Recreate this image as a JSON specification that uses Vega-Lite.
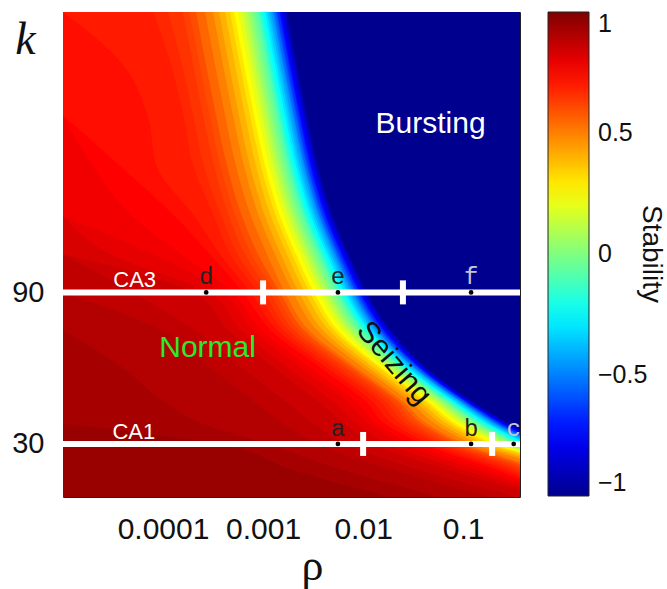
{
  "$schema": "https://vega.github.io/schema/vega-lite/v6.json",
  "width": 457,
  "height": 485,
  "autosize": {"type": "none"},
  "padding": {"left": 63, "top": 12, "right": 147, "bottom": 92},
  "background": "white",
  "config": {
    "font": "Liberation Sans",
    "view": {"stroke": "#222222", "strokeWidth": 1},
    "axis": {"domain": false, "grid": false, "tickColor": "#222222", "tickSize": -5, "tickWidth": 1, "labelColor": "#111111", "titleColor": "#111111", "labelFont": "Liberation Sans"}
  },
  "datasets": {
    "stability": [
      {"s":-1,"k":201,"r":1},{"s":-1,"k":9,"r":1},
      {"s":-0.95,"k":201,"r":0.00174},{"s":-0.95,"k":180,"r":0.00219},{"s":-0.95,"k":160,"r":0.00275},{"s":-0.95,"k":140,"r":0.00355},{"s":-0.95,"k":120,"r":0.00501},{"s":-0.95,"k":105,"r":0.00724},{"s":-0.95,"k":90,"r":0.011},{"s":-0.95,"k":75,"r":0.019},{"s":-0.95,"k":60,"r":0.0437},{"s":-0.95,"k":47,"r":0.123},{"s":-0.95,"k":38,"r":0.288},{"s":-0.95,"k":30,"r":0.692},{"s":-0.95,"k":20,"r":1},{"s":-0.95,"k":9,"r":1},
      {"s":-0.9,"k":201,"r":0.0017},{"s":-0.9,"k":180,"r":0.00214},{"s":-0.9,"k":160,"r":0.00269},{"s":-0.9,"k":140,"r":0.00347},{"s":-0.9,"k":120,"r":0.0049},{"s":-0.9,"k":105,"r":0.00708},{"s":-0.9,"k":90,"r":0.0107},{"s":-0.9,"k":75,"r":0.0186},{"s":-0.9,"k":60,"r":0.0427},{"s":-0.9,"k":47,"r":0.12},{"s":-0.9,"k":38,"r":0.282},{"s":-0.9,"k":30,"r":0.676},{"s":-0.9,"k":20,"r":1},{"s":-0.9,"k":9,"r":1},
      {"s":-0.85,"k":201,"r":0.00166},{"s":-0.85,"k":180,"r":0.00209},{"s":-0.85,"k":160,"r":0.00263},{"s":-0.85,"k":140,"r":0.00339},{"s":-0.85,"k":120,"r":0.00479},{"s":-0.85,"k":105,"r":0.00692},{"s":-0.85,"k":90,"r":0.0105},{"s":-0.85,"k":75,"r":0.0182},{"s":-0.85,"k":60,"r":0.0417},{"s":-0.85,"k":47,"r":0.117},{"s":-0.85,"k":38,"r":0.275},{"s":-0.85,"k":30,"r":0.661},{"s":-0.85,"k":20,"r":1},{"s":-0.85,"k":9,"r":1},
      {"s":-0.8,"k":201,"r":0.00158},{"s":-0.8,"k":180,"r":0.002},{"s":-0.8,"k":160,"r":0.00251},{"s":-0.8,"k":140,"r":0.00324},{"s":-0.8,"k":120,"r":0.00457},{"s":-0.8,"k":105,"r":0.00661},{"s":-0.8,"k":90,"r":0.01},{"s":-0.8,"k":75,"r":0.0174},{"s":-0.8,"k":60,"r":0.0407},{"s":-0.8,"k":47,"r":0.115},{"s":-0.8,"k":38,"r":0.263},{"s":-0.8,"k":30,"r":0.631},{"s":-0.8,"k":20,"r":1},{"s":-0.8,"k":9,"r":1},
      {"s":-0.75,"k":201,"r":0.00155},{"s":-0.75,"k":180,"r":0.00195},{"s":-0.75,"k":160,"r":0.00246},{"s":-0.75,"k":140,"r":0.00316},{"s":-0.75,"k":120,"r":0.00447},{"s":-0.75,"k":105,"r":0.00646},{"s":-0.75,"k":90,"r":0.00977},{"s":-0.75,"k":75,"r":0.017},{"s":-0.75,"k":60,"r":0.0398},{"s":-0.75,"k":47,"r":0.112},{"s":-0.75,"k":38,"r":0.257},{"s":-0.75,"k":30,"r":0.617},{"s":-0.75,"k":20,"r":1},{"s":-0.75,"k":9,"r":1},
      {"s":-0.7,"k":201,"r":0.00148},{"s":-0.7,"k":180,"r":0.00186},{"s":-0.7,"k":160,"r":0.00234},{"s":-0.7,"k":140,"r":0.00302},{"s":-0.7,"k":120,"r":0.00427},{"s":-0.7,"k":105,"r":0.00617},{"s":-0.7,"k":90,"r":0.00933},{"s":-0.7,"k":75,"r":0.0162},{"s":-0.7,"k":60,"r":0.038},{"s":-0.7,"k":47,"r":0.107},{"s":-0.7,"k":38,"r":0.246},{"s":-0.7,"k":30,"r":0.589},{"s":-0.7,"k":20,"r":1},{"s":-0.7,"k":9,"r":1},
      {"s":-0.65,"k":201,"r":0.00145},{"s":-0.65,"k":180,"r":0.00182},{"s":-0.65,"k":160,"r":0.00229},{"s":-0.65,"k":140,"r":0.00295},{"s":-0.65,"k":120,"r":0.00417},{"s":-0.65,"k":105,"r":0.00603},{"s":-0.65,"k":90,"r":0.00912},{"s":-0.65,"k":75,"r":0.0158},{"s":-0.65,"k":60,"r":0.0372},{"s":-0.65,"k":47,"r":0.105},{"s":-0.65,"k":38,"r":0.24},{"s":-0.65,"k":30,"r":0.575},{"s":-0.65,"k":20,"r":1},{"s":-0.65,"k":9,"r":1},
      {"s":-0.6,"k":201,"r":0.00138},{"s":-0.6,"k":180,"r":0.00174},{"s":-0.6,"k":160,"r":0.00219},{"s":-0.6,"k":140,"r":0.00282},{"s":-0.6,"k":120,"r":0.00398},{"s":-0.6,"k":105,"r":0.00575},{"s":-0.6,"k":90,"r":0.00871},{"s":-0.6,"k":75,"r":0.0151},{"s":-0.6,"k":60,"r":0.0363},{"s":-0.6,"k":47,"r":0.102},{"s":-0.6,"k":38,"r":0.229},{"s":-0.6,"k":30,"r":0.55},{"s":-0.6,"k":20,"r":1},{"s":-0.6,"k":9,"r":1},
      {"s":-0.55,"k":201,"r":0.00135},{"s":-0.55,"k":180,"r":0.0017},{"s":-0.55,"k":160,"r":0.00214},{"s":-0.55,"k":140,"r":0.00275},{"s":-0.55,"k":120,"r":0.00389},{"s":-0.55,"k":105,"r":0.00562},{"s":-0.55,"k":90,"r":0.00851},{"s":-0.55,"k":75,"r":0.0148},{"s":-0.55,"k":60,"r":0.0355},{"s":-0.55,"k":47,"r":0.1},{"s":-0.55,"k":38,"r":0.224},{"s":-0.55,"k":30,"r":0.537},{"s":-0.55,"k":20,"r":1},{"s":-0.55,"k":9,"r":1},
      {"s":-0.5,"k":201,"r":0.00129},{"s":-0.5,"k":180,"r":0.00162},{"s":-0.5,"k":160,"r":0.00204},{"s":-0.5,"k":140,"r":0.00263},{"s":-0.5,"k":120,"r":0.00372},{"s":-0.5,"k":105,"r":0.00537},{"s":-0.5,"k":90,"r":0.00813},{"s":-0.5,"k":75,"r":0.0141},{"s":-0.5,"k":60,"r":0.0339},{"s":-0.5,"k":47,"r":0.0955},{"s":-0.5,"k":38,"r":0.214},{"s":-0.5,"k":30,"r":0.513},{"s":-0.5,"k":20,"r":1},{"s":-0.5,"k":9,"r":1},
      {"s":-0.45,"k":201,"r":0.00126},{"s":-0.45,"k":180,"r":0.00158},{"s":-0.45,"k":160,"r":0.002},{"s":-0.45,"k":140,"r":0.00257},{"s":-0.45,"k":120,"r":0.00363},{"s":-0.45,"k":105,"r":0.00525},{"s":-0.45,"k":90,"r":0.00794},{"s":-0.45,"k":75,"r":0.0138},{"s":-0.45,"k":60,"r":0.0331},{"s":-0.45,"k":47,"r":0.0933},{"s":-0.45,"k":38,"r":0.209},{"s":-0.45,"k":30,"r":0.501},{"s":-0.45,"k":20,"r":1},{"s":-0.45,"k":9,"r":1},
      {"s":-0.4,"k":201,"r":0.0012},{"s":-0.4,"k":180,"r":0.00151},{"s":-0.4,"k":160,"r":0.0019},{"s":-0.4,"k":140,"r":0.00246},{"s":-0.4,"k":120,"r":0.00347},{"s":-0.4,"k":105,"r":0.00501},{"s":-0.4,"k":90,"r":0.00759},{"s":-0.4,"k":75,"r":0.0132},{"s":-0.4,"k":60,"r":0.0324},{"s":-0.4,"k":47,"r":0.0912},{"s":-0.4,"k":38,"r":0.2},{"s":-0.4,"k":30,"r":0.479},{"s":-0.4,"k":20,"r":1},{"s":-0.4,"k":9,"r":1},
      {"s":-0.35,"k":201,"r":0.00115},{"s":-0.35,"k":180,"r":0.00145},{"s":-0.35,"k":160,"r":0.00182},{"s":-0.35,"k":140,"r":0.00234},{"s":-0.35,"k":120,"r":0.00331},{"s":-0.35,"k":105,"r":0.00479},{"s":-0.35,"k":90,"r":0.00724},{"s":-0.35,"k":75,"r":0.0126},{"s":-0.35,"k":60,"r":0.0309},{"s":-0.35,"k":47,"r":0.0871},{"s":-0.35,"k":38,"r":0.19},{"s":-0.35,"k":30,"r":0.457},{"s":-0.35,"k":20,"r":1},{"s":-0.35,"k":9,"r":1},
      {"s":-0.3,"k":201,"r":0.0011},{"s":-0.3,"k":180,"r":0.00138},{"s":-0.3,"k":160,"r":0.00174},{"s":-0.3,"k":140,"r":0.00224},{"s":-0.3,"k":120,"r":0.00316},{"s":-0.3,"k":105,"r":0.00457},{"s":-0.3,"k":90,"r":0.00692},{"s":-0.3,"k":75,"r":0.012},{"s":-0.3,"k":60,"r":0.0295},{"s":-0.3,"k":47,"r":0.0832},{"s":-0.3,"k":38,"r":0.182},{"s":-0.3,"k":30,"r":0.437},{"s":-0.3,"k":20,"r":1},{"s":-0.3,"k":9,"r":1},
      {"s":-0.25,"k":201,"r":0.00105},{"s":-0.25,"k":180,"r":0.00132},{"s":-0.25,"k":160,"r":0.00166},{"s":-0.25,"k":140,"r":0.00214},{"s":-0.25,"k":120,"r":0.00302},{"s":-0.25,"k":105,"r":0.00437},{"s":-0.25,"k":90,"r":0.00661},{"s":-0.25,"k":75,"r":0.0115},{"s":-0.25,"k":60,"r":0.0282},{"s":-0.25,"k":47,"r":0.0794},{"s":-0.25,"k":38,"r":0.174},{"s":-0.25,"k":30,"r":0.417},{"s":-0.25,"k":20,"r":1},{"s":-0.25,"k":9,"r":1},
      {"s":-0.2,"k":201,"r":0.001},{"s":-0.2,"k":180,"r":0.00126},{"s":-0.2,"k":160,"r":0.00158},{"s":-0.2,"k":140,"r":0.00204},{"s":-0.2,"k":120,"r":0.00288},{"s":-0.2,"k":105,"r":0.00417},{"s":-0.2,"k":90,"r":0.00631},{"s":-0.2,"k":75,"r":0.011},{"s":-0.2,"k":60,"r":0.0275},{"s":-0.2,"k":47,"r":0.0776},{"s":-0.2,"k":38,"r":0.166},{"s":-0.2,"k":30,"r":0.398},{"s":-0.2,"k":20,"r":1},{"s":-0.2,"k":9,"r":1},
      {"s":-0.15,"k":201,"r":0.000955},{"s":-0.15,"k":180,"r":0.0012},{"s":-0.15,"k":160,"r":0.00151},{"s":-0.15,"k":140,"r":0.00195},{"s":-0.15,"k":120,"r":0.00275},{"s":-0.15,"k":105,"r":0.00398},{"s":-0.15,"k":90,"r":0.00603},{"s":-0.15,"k":75,"r":0.0105},{"s":-0.15,"k":60,"r":0.0263},{"s":-0.15,"k":47,"r":0.0741},{"s":-0.15,"k":38,"r":0.158},{"s":-0.15,"k":30,"r":0.38},{"s":-0.15,"k":20,"r":1},{"s":-0.15,"k":9,"r":1},
      {"s":-0.1,"k":201,"r":0.000912},{"s":-0.1,"k":180,"r":0.00115},{"s":-0.1,"k":160,"r":0.00145},{"s":-0.1,"k":140,"r":0.00186},{"s":-0.1,"k":120,"r":0.00263},{"s":-0.1,"k":105,"r":0.0038},{"s":-0.1,"k":90,"r":0.00575},{"s":-0.1,"k":75,"r":0.01},{"s":-0.1,"k":60,"r":0.0251},{"s":-0.1,"k":47,"r":0.0708},{"s":-0.1,"k":38,"r":0.151},{"s":-0.1,"k":30,"r":0.363},{"s":-0.1,"k":20,"r":1},{"s":-0.1,"k":9,"r":1},
      {"s":-0.05,"k":201,"r":0.000871},{"s":-0.05,"k":180,"r":0.0011},{"s":-0.05,"k":160,"r":0.00138},{"s":-0.05,"k":140,"r":0.00178},{"s":-0.05,"k":120,"r":0.00251},{"s":-0.05,"k":105,"r":0.00363},{"s":-0.05,"k":90,"r":0.0055},{"s":-0.05,"k":75,"r":0.00955},{"s":-0.05,"k":60,"r":0.0246},{"s":-0.05,"k":47,"r":0.0692},{"s":-0.05,"k":38,"r":0.145},{"s":-0.05,"k":30,"r":0.347},{"s":-0.05,"k":20,"r":1},{"s":-0.05,"k":9,"r":1},
      {"s":0,"k":201,"r":0.000813},{"s":0,"k":180,"r":0.00102},{"s":0,"k":160,"r":0.00129},{"s":0,"k":140,"r":0.00166},{"s":0,"k":120,"r":0.00234},{"s":0,"k":105,"r":0.00339},{"s":0,"k":90,"r":0.00513},{"s":0,"k":75,"r":0.00891},{"s":0,"k":60,"r":0.0229},{"s":0,"k":47,"r":0.0646},{"s":0,"k":38,"r":0.135},{"s":0,"k":30,"r":0.324},{"s":0,"k":20,"r":1},{"s":0,"k":9,"r":1},
      {"s":0.05,"k":201,"r":0.000759},{"s":0.05,"k":180,"r":0.000955},{"s":0.05,"k":160,"r":0.0012},{"s":0.05,"k":140,"r":0.00155},{"s":0.05,"k":120,"r":0.00219},{"s":0.05,"k":105,"r":0.00316},{"s":0.05,"k":90,"r":0.00479},{"s":0.05,"k":75,"r":0.00832},{"s":0.05,"k":60,"r":0.0219},{"s":0.05,"k":47,"r":0.0617},{"s":0.05,"k":38,"r":0.126},{"s":0.05,"k":30,"r":0.302},{"s":0.05,"k":20,"r":1},{"s":0.05,"k":9,"r":1},
      {"s":0.1,"k":201,"r":0.000708},{"s":0.1,"k":180,"r":0.000891},{"s":0.1,"k":160,"r":0.00112},{"s":0.1,"k":140,"r":0.00145},{"s":0.1,"k":120,"r":0.00204},{"s":0.1,"k":105,"r":0.00295},{"s":0.1,"k":90,"r":0.00447},{"s":0.1,"k":75,"r":0.00776},{"s":0.1,"k":60,"r":0.0204},{"s":0.1,"k":47,"r":0.0575},{"s":0.1,"k":38,"r":0.117},{"s":0.1,"k":30,"r":0.282},{"s":0.1,"k":20,"r":1},{"s":0.1,"k":9,"r":1},
      {"s":0.15,"k":201,"r":0.000661},{"s":0.15,"k":180,"r":0.000832},{"s":0.15,"k":160,"r":0.00105},{"s":0.15,"k":140,"r":0.00135},{"s":0.15,"k":120,"r":0.0019},{"s":0.15,"k":105,"r":0.00275},{"s":0.15,"k":90,"r":0.00417},{"s":0.15,"k":75,"r":0.00724},{"s":0.15,"k":60,"r":0.019},{"s":0.15,"k":47,"r":0.0537},{"s":0.15,"k":38,"r":0.11},{"s":0.15,"k":30,"r":0.263},{"s":0.15,"k":20,"r":1},{"s":0.15,"k":9,"r":1},
      {"s":0.2,"k":201,"r":0.000617},{"s":0.2,"k":180,"r":0.000776},{"s":0.2,"k":160,"r":0.000977},{"s":0.2,"k":140,"r":0.00126},{"s":0.2,"k":120,"r":0.00178},{"s":0.2,"k":105,"r":0.00257},{"s":0.2,"k":90,"r":0.00389},{"s":0.2,"k":75,"r":0.00676},{"s":0.2,"k":60,"r":0.0182},{"s":0.2,"k":47,"r":0.0513},{"s":0.2,"k":38,"r":0.102},{"s":0.2,"k":30,"r":0.246},{"s":0.2,"k":20,"r":1},{"s":0.2,"k":9,"r":1},
      {"s":0.25,"k":201,"r":0.000562},{"s":0.25,"k":180,"r":0.000708},{"s":0.25,"k":160,"r":0.000891},{"s":0.25,"k":140,"r":0.00115},{"s":0.25,"k":120,"r":0.00162},{"s":0.25,"k":105,"r":0.00234},{"s":0.25,"k":90,"r":0.00355},{"s":0.25,"k":75,"r":0.00617},{"s":0.25,"k":60,"r":0.0166},{"s":0.25,"k":47,"r":0.0468},{"s":0.25,"k":38,"r":0.0933},{"s":0.25,"k":30,"r":0.224},{"s":0.25,"k":20,"r":1},{"s":0.25,"k":9,"r":1},
      {"s":0.3,"k":201,"r":0.000513},{"s":0.3,"k":180,"r":0.000646},{"s":0.3,"k":160,"r":0.000813},{"s":0.3,"k":140,"r":0.00105},{"s":0.3,"k":120,"r":0.00148},{"s":0.3,"k":105,"r":0.00214},{"s":0.3,"k":90,"r":0.00324},{"s":0.3,"k":75,"r":0.00562},{"s":0.3,"k":60,"r":0.0155},{"s":0.3,"k":47,"r":0.0437},{"s":0.3,"k":38,"r":0.0851},{"s":0.3,"k":30,"r":0.204},{"s":0.3,"k":20,"r":1},{"s":0.3,"k":9,"r":1},
      {"s":0.35,"k":201,"r":0.000468},{"s":0.35,"k":180,"r":0.000589},{"s":0.35,"k":160,"r":0.000741},{"s":0.35,"k":140,"r":0.000955},{"s":0.35,"k":120,"r":0.00135},{"s":0.35,"k":105,"r":0.00195},{"s":0.35,"k":90,"r":0.00295},{"s":0.35,"k":75,"r":0.00513},{"s":0.35,"k":60,"r":0.0145},{"s":0.35,"k":47,"r":0.0407},{"s":0.35,"k":38,"r":0.0776},{"s":0.35,"k":30,"r":0.186},{"s":0.35,"k":20,"r":0.977},{"s":0.35,"k":9,"r":1},
      {"s":0.4,"k":201,"r":0.000417},{"s":0.4,"k":180,"r":0.000525},{"s":0.4,"k":160,"r":0.000661},{"s":0.4,"k":140,"r":0.000851},{"s":0.4,"k":120,"r":0.0012},{"s":0.4,"k":105,"r":0.00174},{"s":0.4,"k":90,"r":0.00263},{"s":0.4,"k":75,"r":0.00457},{"s":0.4,"k":60,"r":0.0129},{"s":0.4,"k":47,"r":0.0363},{"s":0.4,"k":38,"r":0.0692},{"s":0.4,"k":30,"r":0.166},{"s":0.4,"k":20,"r":0.871},{"s":0.4,"k":9,"r":1},
      {"s":0.45,"k":201,"r":0.000363},{"s":0.45,"k":180,"r":0.000457},{"s":0.45,"k":160,"r":0.000575},{"s":0.45,"k":140,"r":0.000741},{"s":0.45,"k":120,"r":0.00105},{"s":0.45,"k":105,"r":0.00151},{"s":0.45,"k":90,"r":0.00229},{"s":0.45,"k":75,"r":0.00398},{"s":0.45,"k":60,"r":0.0115},{"s":0.45,"k":47,"r":0.0324},{"s":0.45,"k":38,"r":0.0603},{"s":0.45,"k":30,"r":0.145},{"s":0.45,"k":20,"r":0.759},{"s":0.45,"k":9,"r":1},
      {"s":0.5,"k":201,"r":0.000316},{"s":0.5,"k":180,"r":0.000398},{"s":0.5,"k":160,"r":0.000501},{"s":0.5,"k":140,"r":0.000646},{"s":0.5,"k":120,"r":0.000912},{"s":0.5,"k":105,"r":0.00132},{"s":0.5,"k":90,"r":0.002},{"s":0.5,"k":75,"r":0.00347},{"s":0.5,"k":60,"r":0.0102},{"s":0.5,"k":47,"r":0.0288},{"s":0.5,"k":38,"r":0.0525},{"s":0.5,"k":30,"r":0.126},{"s":0.5,"k":20,"r":0.661},{"s":0.5,"k":9,"r":1},
      {"s":0.55,"k":201,"r":0.000263},{"s":0.55,"k":180,"r":0.000331},{"s":0.55,"k":160,"r":0.000417},{"s":0.55,"k":140,"r":0.000537},{"s":0.55,"k":120,"r":0.000759},{"s":0.55,"k":105,"r":0.0011},{"s":0.55,"k":90,"r":0.00166},{"s":0.55,"k":75,"r":0.00288},{"s":0.55,"k":60,"r":0.00871},{"s":0.55,"k":47,"r":0.0246},{"s":0.55,"k":38,"r":0.0437},{"s":0.55,"k":30,"r":0.105},{"s":0.55,"k":20,"r":0.55},{"s":0.55,"k":9,"r":1},
      {"s":0.6,"k":201,"r":0.000214},{"s":0.6,"k":180,"r":0.000269},{"s":0.6,"k":160,"r":0.000339},{"s":0.6,"k":140,"r":0.000437},{"s":0.6,"k":120,"r":0.000617},{"s":0.6,"k":105,"r":0.000891},{"s":0.6,"k":90,"r":0.00148},{"s":0.6,"k":75,"r":0.00257},{"s":0.6,"k":60,"r":0.00794},{"s":0.6,"k":47,"r":0.0224},{"s":0.6,"k":38,"r":0.0389},{"s":0.6,"k":30,"r":0.0933},{"s":0.6,"k":20,"r":0.49},{"s":0.6,"k":9,"r":1},
      {"s":0.625,"k":201,"r":0.000184},{"s":0.625,"k":180,"r":0.000232},{"s":0.625,"k":160,"r":0.000292},{"s":0.625,"k":140,"r":0.000376},{"s":0.625,"k":120,"r":0.000531},{"s":0.625,"k":105,"r":0.000767},{"s":0.625,"k":90,"r":0.00132},{"s":0.625,"k":75,"r":0.00229},{"s":0.625,"k":60,"r":0.00724},{"s":0.625,"k":47,"r":0.0204},{"s":0.625,"k":38,"r":0.0347},{"s":0.625,"k":30,"r":0.0832},{"s":0.625,"k":20,"r":0.437},{"s":0.625,"k":9,"r":1},
      {"s":0.65,"k":201,"r":0.000158},{"s":0.65,"k":180,"r":0.0002},{"s":0.65,"k":160,"r":0.000251},{"s":0.65,"k":140,"r":0.000324},{"s":0.65,"k":120,"r":0.000457},{"s":0.65,"k":105,"r":0.000661},{"s":0.65,"k":90,"r":0.00117},{"s":0.65,"k":75,"r":0.00204},{"s":0.65,"k":60,"r":0.00661},{"s":0.65,"k":47,"r":0.0186},{"s":0.65,"k":38,"r":0.0309},{"s":0.65,"k":30,"r":0.0741},{"s":0.65,"k":20,"r":0.389},{"s":0.65,"k":9,"r":1},
      {"s":0.675,"k":201,"r":0.000112},{"s":0.675,"k":180,"r":0.000155},{"s":0.675,"k":160,"r":0.0002},{"s":0.675,"k":140,"r":0.000255},{"s":0.675,"k":120,"r":0.000385},{"s":0.675,"k":105,"r":0.000556},{"s":0.675,"k":90,"r":0.00102},{"s":0.675,"k":75,"r":0.00181},{"s":0.675,"k":60,"r":0.0058},{"s":0.675,"k":47,"r":0.0164},{"s":0.675,"k":38,"r":0.0269},{"s":0.675,"k":30,"r":0.0645},{"s":0.675,"k":20,"r":0.339},{"s":0.675,"k":9,"r":1},
      {"s":0.7,"k":201,"r":0.00008},{"s":0.7,"k":180,"r":0.00012},{"s":0.7,"k":160,"r":0.00016},{"s":0.7,"k":140,"r":0.0002},{"s":0.7,"k":120,"r":0.000324},{"s":0.7,"k":105,"r":0.000468},{"s":0.7,"k":90,"r":0.000891},{"s":0.7,"k":75,"r":0.0016},{"s":0.7,"k":60,"r":0.0051},{"s":0.7,"k":47,"r":0.0145},{"s":0.7,"k":38,"r":0.0234},{"s":0.7,"k":30,"r":0.0562},{"s":0.7,"k":20,"r":0.295},{"s":0.7,"k":9,"r":1},
      {"s":0.725,"k":201,"r":0.00001},{"s":0.725,"k":180,"r":0.00004},{"s":0.725,"k":160,"r":0.00007},{"s":0.725,"k":140,"r":0.000086},{"s":0.725,"k":120,"r":0.000207},{"s":0.725,"k":105,"r":0.000372},{"s":0.725,"k":90,"r":0.00075},{"s":0.725,"k":75,"r":0.00139},{"s":0.725,"k":60,"r":0.0044},{"s":0.725,"k":47,"r":0.0123},{"s":0.725,"k":38,"r":0.0197},{"s":0.725,"k":30,"r":0.0473},{"s":0.725,"k":20,"r":0.248},{"s":0.725,"k":9,"r":1},
      {"s":0.75,"k":160,"r":0.00001},{"s":0.75,"k":140,"r":0.0000372},{"s":0.75,"k":120,"r":0.000132},{"s":0.75,"k":105,"r":0.000295},{"s":0.75,"k":90,"r":0.000631},{"s":0.75,"k":75,"r":0.0012},{"s":0.75,"k":60,"r":0.0038},{"s":0.75,"k":47,"r":0.0105},{"s":0.75,"k":38,"r":0.0166},{"s":0.75,"k":30,"r":0.0398},{"s":0.75,"k":20,"r":0.209},{"s":0.75,"k":9,"r":1},
      {"s":0.775,"k":160,"r":0.00001},{"s":0.775,"k":140,"r":0.00002},{"s":0.775,"k":120,"r":0.00005},{"s":0.775,"k":105,"r":0.000154},{"s":0.775,"k":90,"r":0.0005},{"s":0.775,"k":75,"r":0.00098},{"s":0.775,"k":60,"r":0.00302},{"s":0.775,"k":47,"r":0.00845},{"s":0.775,"k":38,"r":0.0138},{"s":0.775,"k":30,"r":0.0316},{"s":0.775,"k":20,"r":0.166},{"s":0.775,"k":9,"r":1},
      {"s":0.8,"k":120,"r":0.00001},{"s":0.8,"k":105,"r":0.00008},{"s":0.8,"k":90,"r":0.000398},{"s":0.8,"k":75,"r":0.0008},{"s":0.8,"k":60,"r":0.0024},{"s":0.8,"k":47,"r":0.0068},{"s":0.8,"k":38,"r":0.0115},{"s":0.8,"k":30,"r":0.0251},{"s":0.8,"k":20,"r":0.132},{"s":0.8,"k":9,"r":1},
      {"s":0.825,"k":120,"r":0.00001},{"s":0.825,"k":105,"r":0.00003},{"s":0.825,"k":90,"r":0.000282},{"s":0.825,"k":75,"r":0.0006},{"s":0.825,"k":60,"r":0.00177},{"s":0.825,"k":47,"r":0.00488},{"s":0.825,"k":38,"r":0.00865},{"s":0.825,"k":30,"r":0.0178},{"s":0.825,"k":20,"r":0.0934},{"s":0.825,"k":9,"r":0.813},
      {"s":0.85,"k":105,"r":0.00001},{"s":0.85,"k":90,"r":0.0002},{"s":0.85,"k":75,"r":0.00045},{"s":0.85,"k":60,"r":0.0013},{"s":0.85,"k":47,"r":0.0035},{"s":0.85,"k":38,"r":0.0065},{"s":0.85,"k":30,"r":0.0126},{"s":0.85,"k":20,"r":0.0661},{"s":0.85,"k":9,"r":0.661},
      {"s":0.875,"k":105,"r":0.00001},{"s":0.875,"k":90,"r":0.00005},{"s":0.875,"k":75,"r":0.00021},{"s":0.875,"k":60,"r":0.000624},{"s":0.875,"k":47,"r":0.00167},{"s":0.875,"k":38,"r":0.00322},{"s":0.875,"k":30,"r":0.00664},{"s":0.875,"k":20,"r":0.0351},{"s":0.875,"k":9,"r":0.351},
      {"s":0.9,"k":90,"r":0.00001},{"s":0.9,"k":75,"r":0.0000977},{"s":0.9,"k":60,"r":0.0003},{"s":0.9,"k":47,"r":0.0008},{"s":0.9,"k":38,"r":0.0016},{"s":0.9,"k":30,"r":0.0035},{"s":0.9,"k":20,"r":0.0186},{"s":0.9,"k":9,"r":0.186},
      {"s":0.925,"k":75,"r":0.00001},{"s":0.925,"k":60,"r":0.00004},{"s":0.925,"k":47,"r":0.0001},{"s":0.925,"k":38,"r":0.00025},{"s":0.925,"k":30,"r":0.00111},{"s":0.925,"k":20,"r":0.00588},{"s":0.925,"k":9,"r":0.0588},
      {"s":0.95,"k":38,"r":0.00001},{"s":0.95,"k":30,"r":0.000355},{"s":0.95,"k":20,"r":0.00186},{"s":0.95,"k":9,"r":0.0186}
    ],
    "lines": [
      {"name": "CA3", "k": 90, "r0": 0.00001, "r1": 0.37, "lx": 0.000052},
      {"name": "CA1", "k": 30, "r0": 0.00001, "r1": 0.37, "lx": 0.000051}
    ],
    "bounds": [
      {"k": 90, "r": 0.001}, {"k": 90, "r": 0.025},
      {"k": 30, "r": 0.01}, {"k": 30, "r": 0.195}
    ],
    "points": [
      {"p": "d", "k": 90, "r": 0.00027}, {"p": "e", "k": 90, "r": 0.0056}, {"p": "f", "k": 90, "r": 0.12},
      {"p": "a", "k": 30, "r": 0.0056}, {"p": "b", "k": 30, "r": 0.12}, {"p": "c", "k": 30, "r": 0.32}
    ],
    "regions": [
      {"label": "Bursting", "k": 153, "r": 0.0473},
      {"label": "Normal", "k": 64.4, "r": 0.000279},
      {"label": "Seizing", "k": 62, "r": 0.0204}
    ]
  },
  "layer": [
    {
      "data": {"name": "stability"},
      "mark": {"type": "area", "orient": "horizontal", "interpolate": "monotone", "clip": true, "opacity": 1},
      "encoding": {
        "y": {
          "field": "k", "type": "quantitative",
          "scale": {"domain": [9, 201], "nice": false, "zero": false},
          "axis": {
            "values": [30, 60, 90, 120, 150, 180],
            "labelExpr": "datum.value == 30 || datum.value == 90 ? datum.label : ''",
            "labelFontSize": 29, "labelPadding": 24,
            "title": "k", "titleAngle": 0, "titleFont": "Liberation Serif", "titleFontStyle": "italic",
            "titleFontWeight": "normal", "titleFontSize": 46, "titleX": -38, "titleY": 41,
            "titleAlign": "center", "titleBaseline": "alphabetic"
          }
        },
        "x": {
          "field": "r", "type": "quantitative", "stack": null,
          "scale": {"type": "log", "domain": [0.00001, 0.37], "nice": false},
          "axis": {
            "values": [0.0001, 0.001, 0.01, 0.1], "format": "~g",
            "labelFontSize": 30, "labelPadding": 22,
            "title": "ρ", "titleFont": "Liberation Serif", "titleFontWeight": "normal", "titleFontSize": 44,
            "titleX": 249, "titleY": 82, "titleBaseline": "alphabetic"
          }
        },
        "x2": {"datum": 0.00001},
        "color": {
          "field": "s", "type": "quantitative",
          "scale": {
            "domain": [-1, -0.75, -0.25, 0.25, 0.75, 1],
            "range": ["#00008f", "#0000ff", "#00ffff", "#ffff00", "#ff0000", "#800000"],
            "interpolate": "rgb"
          },
          "legend": {
            "title": "Stability", "orient": "right", "direction": "vertical",
            "values": [-1, -0.5, 0, 0.5, 1], "format": "~g",
            "gradientLength": 484, "gradientThickness": 41, "offset": 27, "padding": 0,
            "gradientStrokeColor": "#222222", "gradientStrokeWidth": 1,
            "labelFont": "Liberation Sans", "labelFontSize": 25, "labelOffset": 9, "labelColor": "#111111",
            "labelBaseline": "middle",
            "titleOrient": "right", "titleFont": "Liberation Sans", "titleFontSize": 28,
            "titleFontWeight": "normal", "titleColor": "#111111", "titlePadding": -10
          }
        }
      }
    },
    {
      "data": {"name": "lines"},
      "mark": {"type": "rule", "color": "white", "strokeWidth": 6},
      "encoding": {
        "y": {"field": "k", "type": "quantitative", "axis": null},
        "x": {"field": "r0", "type": "quantitative", "axis": null},
        "x2": {"field": "r1"}
      }
    },
    {
      "data": {"name": "lines"},
      "mark": {"type": "text", "color": "white", "fontSize": 22, "align": "center", "baseline": "alphabetic", "dy": -5},
      "encoding": {
        "y": {"field": "k", "type": "quantitative", "axis": null},
        "x": {"field": "lx", "type": "quantitative", "axis": null},
        "text": {"field": "name"}
      }
    },
    {
      "data": {"name": "bounds"},
      "mark": {"type": "tick", "orient": "vertical", "color": "white", "size": 24, "thickness": 6, "opacity": 1},
      "encoding": {
        "y": {"field": "k", "type": "quantitative", "axis": null},
        "x": {"field": "r", "type": "quantitative", "axis": null}
      }
    },
    {
      "data": {"name": "points"},
      "mark": {"type": "text", "font": "Liberation Mono", "fontSize": 24, "align": "center", "baseline": "alphabetic", "dy": -8},
      "encoding": {
        "y": {"field": "k", "type": "quantitative", "axis": null},
        "x": {"field": "r", "type": "quantitative", "axis": null},
        "text": {"field": "p"},
        "color": {"condition": {"test": "datum.p == 'f' || datum.p == 'c'", "value": "#c4c6d6"}, "value": "#222222"}
      }
    },
    {
      "data": {"name": "points"},
      "mark": {"type": "point", "filled": true, "color": "black", "size": 22, "opacity": 1},
      "encoding": {
        "y": {
          "field": "k", "type": "quantitative",
          "axis": {"orient": "right", "values": [30, 60, 90, 120, 150, 180], "labels": false, "title": null}
        },
        "x": {
          "field": "r", "type": "quantitative",
          "axis": {"orient": "top", "values": [0.0001, 0.001, 0.01, 0.1], "labels": false, "title": null}
        }
      }
    },
    {
      "data": {"name": "regions"},
      "transform": [{"filter": "datum.label == 'Bursting'"}],
      "mark": {"type": "text", "color": "white", "fontSize": 30, "align": "center", "baseline": "alphabetic"},
      "encoding": {
        "y": {"field": "k", "type": "quantitative", "axis": null},
        "x": {"field": "r", "type": "quantitative", "axis": null},
        "text": {"field": "label"}
      }
    },
    {
      "data": {"name": "regions"},
      "transform": [{"filter": "datum.label == 'Normal'"}],
      "mark": {"type": "text", "color": "#2ee82e", "fontSize": 30, "align": "center", "baseline": "alphabetic"},
      "encoding": {
        "y": {"field": "k", "type": "quantitative", "axis": null},
        "x": {"field": "r", "type": "quantitative", "axis": null},
        "text": {"field": "label"}
      }
    },
    {
      "data": {"name": "regions"},
      "transform": [{"filter": "datum.label == 'Seizing'"}],
      "mark": {"type": "text", "color": "#111111", "fontSize": 30, "align": "center", "baseline": "middle", "angle": 50},
      "encoding": {
        "y": {"field": "k", "type": "quantitative", "axis": null},
        "x": {"field": "r", "type": "quantitative", "axis": null},
        "text": {"field": "label"}
      }
    }
  ],
  "resolve": {"axis": {"x": "independent", "y": "independent"}}
}
